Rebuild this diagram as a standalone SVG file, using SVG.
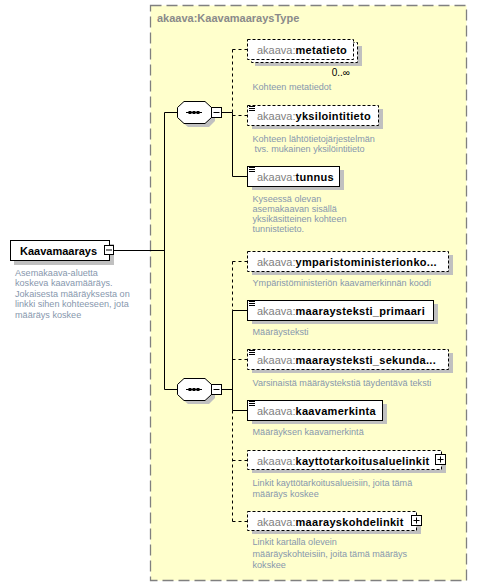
<svg xmlns="http://www.w3.org/2000/svg" width="477" height="587" viewBox="0 0 477 587">
<style>
.bg{fill:#ffffff}
.type{fill:#ffffcc;stroke:#808080;stroke-width:1.3;stroke-dasharray:11,5}
.ttl{font-family:"Liberation Sans",Arial,sans-serif;font-size:11px;font-weight:bold;fill:#8a8a8a}
.sh{fill:#c0c0c0}
.box{fill:#ffffff;stroke:#000;stroke-width:1}
.opt{stroke-dasharray:3,2}
.nm{font-family:"Liberation Sans",Arial,sans-serif;font-size:11px;font-weight:bold;fill:#000}
.el{letter-spacing:0.3px}
.pf{font-weight:normal;fill:#808080;letter-spacing:0}
.ds{font-family:"Liberation Sans",Arial,sans-serif;font-size:9.1px;fill:#8797ad}
.oc{font-family:"Liberation Sans",Arial,sans-serif;font-size:10px;fill:#000}
.ln{stroke:#000;stroke-width:1;fill:none}
.dl{stroke:#000;stroke-width:1;fill:none;stroke-dasharray:3,3}
.ic{stroke:#000;stroke-width:1}
.pm{fill:#ffffff;stroke:#000;stroke-width:1}
</style>
<rect class="bg" x="0" y="0" width="477" height="587"/>
<g id="type">
<rect class="type" x="150.5" y="5.5" width="316" height="575"/>
<text class="ttl" x="157" y="22">akaava:KaavamaaraysType</text>
</g>
<g id="connectors">
<line class="ln" x1="114" y1="250.5" x2="164.5" y2="250.5"/>
<line class="ln" x1="164.5" y1="112.5" x2="164.5" y2="389.5"/>
<line class="ln" x1="164.5" y1="112.5" x2="177" y2="112.5"/>
<line class="ln" x1="164.5" y1="389.5" x2="177" y2="389.5"/>
<line class="ln" x1="221.5" y1="112.5" x2="232.5" y2="112.5"/>
<line class="dl" x1="232.5" y1="49.5" x2="232.5" y2="112.5"/>
<line class="ln" x1="232.5" y1="112.5" x2="232.5" y2="176.5"/>
<line class="dl" x1="232.5" y1="49.5" x2="247" y2="49.5"/>
<line class="dl" x1="232.5" y1="115.5" x2="247" y2="115.5"/>
<line class="ln" x1="232.5" y1="176.5" x2="247" y2="176.5"/>
<line class="ln" x1="221.5" y1="389.5" x2="232.5" y2="389.5"/>
<line class="dl" x1="232.5" y1="261.5" x2="232.5" y2="310.5"/>
<line class="ln" x1="232.5" y1="310.5" x2="232.5" y2="410.5"/>
<line class="dl" x1="232.5" y1="410.5" x2="232.5" y2="521.5"/>
<line class="dl" x1="232.5" y1="261.5" x2="247" y2="261.5"/>
<line class="ln" x1="232.5" y1="310.5" x2="247" y2="310.5"/>
<line class="dl" x1="232.5" y1="359.5" x2="247" y2="359.5"/>
<line class="ln" x1="232.5" y1="410.5" x2="247" y2="410.5"/>
<line class="dl" x1="232.5" y1="460.5" x2="247" y2="460.5"/>
<line class="dl" x1="232.5" y1="521.5" x2="247" y2="521.5"/>
</g>
<g id="Kaavamaarays">
<rect class="sh" x="14" y="244" width="100" height="21"/>
<rect class="box" x="10.5" y="240.5" width="99" height="20"/>
<text class="nm" x="20" y="255">Kaavamaarays</text>
<rect class="pm" x="104.5" y="245.5" width="9" height="9"/>
<line class="ic" x1="106" y1="250" x2="112" y2="250"/>
<text class="ds" x="15" y="275.5">Asemakaava-aluetta</text>
<text class="ds" x="15" y="286">koskeva kaavamääräys.</text>
<text class="ds" x="15" y="296.5">Jokaisesta määräyksesta on</text>
<text class="ds" x="15" y="307">linkki sihen kohteeseen, jota</text>
<text class="ds" x="15" y="317.5">määräys koskee</text>
</g>
<g id="sequence1">
<polygon class="sh" points="188,105 209,105 215,111 215,121 209,127 188,127 181,121 181,111"/>
<polygon class="box" points="184,101.5 205,101.5 211.5,107.5 211.5,117.5 205,123.5 184,123.5 177.5,117.5 177.5,107.5"/>
<line class="ic" x1="186" y1="112.5" x2="202" y2="112.5"/>
<rect x="188.5" y="111" width="3" height="3" fill="#000"/>
<rect x="192.5" y="111" width="3" height="3" fill="#000"/>
<rect x="196.5" y="111" width="3" height="3" fill="#000"/>
<rect class="pm" x="211.5" y="107.5" width="10" height="10"/>
<line class="ic" x1="213.5" y1="112.5" x2="219.5" y2="112.5"/>
</g>
<g id="sequence2">
<polygon class="sh" points="188,382 209,382 215,388 215,398 209,404 188,404 181,398 181,388"/>
<polygon class="box" points="184,378.5 205,378.5 211.5,384.5 211.5,394.5 205,400.5 184,400.5 177.5,394.5 177.5,384.5"/>
<line class="ic" x1="186" y1="389.5" x2="202" y2="389.5"/>
<rect x="188.5" y="388" width="3" height="3" fill="#000"/>
<rect x="192.5" y="388" width="3" height="3" fill="#000"/>
<rect x="196.5" y="388" width="3" height="3" fill="#000"/>
<rect class="pm" x="211.5" y="384.5" width="10" height="10"/>
<line class="ic" x1="213.5" y1="389.5" x2="219.5" y2="389.5"/>
</g>
<g id="metatieto">
<rect class="sh" x="255" y="46" width="107" height="20"/>
<rect class="box opt" x="251.5" y="42.5" width="106" height="20"/>
<rect class="box opt" x="247.5" y="39.5" width="106" height="20"/>
<text class="nm el" x="257" y="53.5"><tspan class="pf">akaava:</tspan>metatieto</text>
<text class="oc" x="350" y="75.5" text-anchor="end">0..∞</text>
<text class="ds" x="252.5" y="90">Kohteen metatiedot</text>
</g>
<g id="yksilointitieto">
<rect class="sh" x="252" y="109" width="131" height="20"/>
<rect class="box opt" x="247.5" y="105.5" width="131" height="20"/>
<line class="ic" x1="249" y1="106.5" x2="255" y2="106.5"/>
<line class="ic" x1="249" y1="108.5" x2="255" y2="108.5"/>
<line class="ic" x1="249" y1="110.5" x2="255" y2="110.5"/>
<text class="nm el" x="257" y="119.5"><tspan class="pf">akaava:</tspan>yksilointitieto</text>
<text class="ds" x="252.5" y="141.5">Kohteen lähtötietojärjestelmän</text>
<text class="ds" x="254.5" y="152">tvs. mukainen yksilöintitieto</text>
</g>
<g id="tunnus">
<rect class="sh" x="252" y="170" width="92" height="20"/>
<rect class="box" x="247.5" y="166.5" width="92" height="20"/>
<line class="ic" x1="249" y1="167.5" x2="255" y2="167.5"/>
<line class="ic" x1="249" y1="169.5" x2="255" y2="169.5"/>
<line class="ic" x1="249" y1="171.5" x2="255" y2="171.5"/>
<text class="nm el" x="257" y="180.5"><tspan class="pf">akaava:</tspan>tunnus</text>
<text class="ds" x="252.5" y="202">Kyseessä olevan</text>
<text class="ds" x="252.5" y="212">asemakaavan sisällä</text>
<text class="ds" x="252.5" y="222">yksikäsitteinen kohteen</text>
<text class="ds" x="252.5" y="232">tunnistetieto.</text>
</g>
<g id="ymparistoministerionkoodi">
<rect class="sh" x="252" y="255" width="201" height="20"/>
<rect class="box opt" x="247.5" y="251.5" width="201" height="20"/>
<text class="nm el" x="257" y="265.5"><tspan class="pf">akaava:</tspan>ymparistoministerionko...</text>
<text class="ds" x="252.5" y="286">Ympäristöministeriön kaavamerkinnän koodi</text>
</g>
<g id="maaraysteksti_primaari">
<rect class="sh" x="252" y="304" width="186" height="20"/>
<rect class="box" x="247.5" y="300.5" width="186" height="20"/>
<line class="ic" x1="249" y1="301.5" x2="255" y2="301.5"/>
<line class="ic" x1="249" y1="303.5" x2="255" y2="303.5"/>
<line class="ic" x1="249" y1="305.5" x2="255" y2="305.5"/>
<text class="nm el" x="257" y="314.5"><tspan class="pf">akaava:</tspan>maaraysteksti_primaari</text>
<text class="ds" x="252.5" y="334.5">Määräysteksti</text>
</g>
<g id="maaraysteksti_sekundaari">
<rect class="sh" x="252" y="353" width="201" height="20"/>
<rect class="box opt" x="247.5" y="349.5" width="201" height="20"/>
<line class="ic" x1="249" y1="350.5" x2="255" y2="350.5"/>
<line class="ic" x1="249" y1="352.5" x2="255" y2="352.5"/>
<line class="ic" x1="249" y1="354.5" x2="255" y2="354.5"/>
<text class="nm el" x="257" y="363.5"><tspan class="pf">akaava:</tspan>maaraysteksti_sekunda...</text>
<text class="ds" x="252.5" y="386">Varsinaistä määräystekstiä täydentävä teksti</text>
</g>
<g id="kaavamerkinta">
<rect class="sh" x="252" y="404" width="135" height="20"/>
<rect class="box" x="247.5" y="400.5" width="135" height="20"/>
<line class="ic" x1="249" y1="401.5" x2="255" y2="401.5"/>
<line class="ic" x1="249" y1="403.5" x2="255" y2="403.5"/>
<line class="ic" x1="249" y1="405.5" x2="255" y2="405.5"/>
<text class="nm el" x="257" y="414.5"><tspan class="pf">akaava:</tspan>kaavamerkinta</text>
<text class="ds" x="252.5" y="435">Määräyksen kaavamerkintä</text>
</g>
<g id="kayttotarkoitusaluelinkit">
<rect class="sh" x="252" y="454" width="194" height="19"/>
<rect class="box opt" x="247.5" y="450.5" width="194" height="19"/>
<text class="nm el" x="257" y="464.5"><tspan class="pf">akaava:</tspan>kayttotarkoitusaluelinkit</text>
<rect class="pm" x="435.5" y="454.5" width="10" height="10"/>
<line class="ic" x1="437.5" y1="459.5" x2="443.5" y2="459.5"/>
<line class="ic" x1="440.5" y1="456.5" x2="440.5" y2="462.5"/>
<text class="ds" x="252.5" y="486">Linkit kayttötarkoitusalueisiin, joita tämä</text>
<text class="ds" x="252.5" y="497">määräys koskee</text>
</g>
<g id="maarayskohdelinkit">
<rect class="sh" x="252" y="515" width="169" height="19"/>
<rect class="box opt" x="247.5" y="511.5" width="169" height="19"/>
<text class="nm el" x="257" y="525.5"><tspan class="pf">akaava:</tspan>maarayskohdelinkit</text>
<rect class="pm" x="411.5" y="515.5" width="10" height="10"/>
<line class="ic" x1="413.5" y1="520.5" x2="419.5" y2="520.5"/>
<line class="ic" x1="416.5" y1="517.5" x2="416.5" y2="523.5"/>
<text class="ds" x="252.5" y="545">Linkit kartalla olevein</text>
<text class="ds" x="252.5" y="556.5">määräyskohteisiin, joita tämä määräys</text>
<text class="ds" x="252.5" y="568">kokskee</text>
</g>
</svg>
